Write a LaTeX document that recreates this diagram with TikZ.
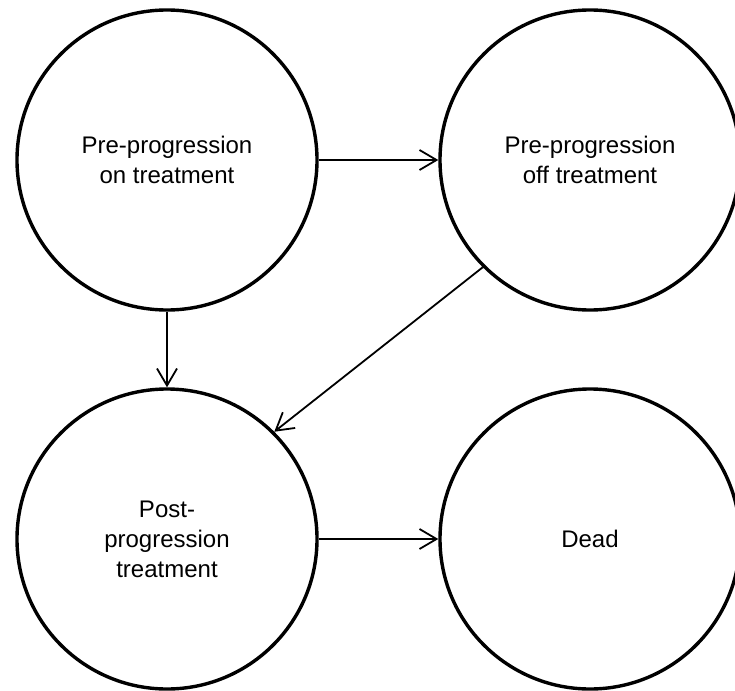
\documentclass[tikz,border=0pt]{standalone}
\usepackage{fontspec}
\setmainfont{Liberation Sans}
\usepackage{tikz}
\usetikzlibrary{arrows.meta}
\tikzset{
    state/.style={circle, draw, line width=3.4pt, minimum size=300pt, align=center,
        font=\fontsize{24}{30}\selectfont},
    trans/.style={line width=1.8pt, -{Straight Barb[length=17pt,width=20pt,line width=1.8pt]}},
}
\begin{document}
\begin{tikzpicture}[x=1pt, y=-1pt]
    \useasboundingbox (0,0) rectangle (735,690);
    \node[state] (preon) at (167,160) {Pre-progression\\on treatment};
    \node[state] (preoff) at (590,160) {Pre-progression\\off treatment};
    \node[state] (post) at (167,539) {Post-\\progression\\treatment};
    \node[state] (dead) at (590,539) {Dead};
    \draw[trans] (preon) -- (preoff);
    \draw[trans] (preon) -- (post);
    \draw[trans] (preoff.225) -- (post.45);
    \draw[trans] (post) -- (dead);
\end{tikzpicture}
\end{document}
